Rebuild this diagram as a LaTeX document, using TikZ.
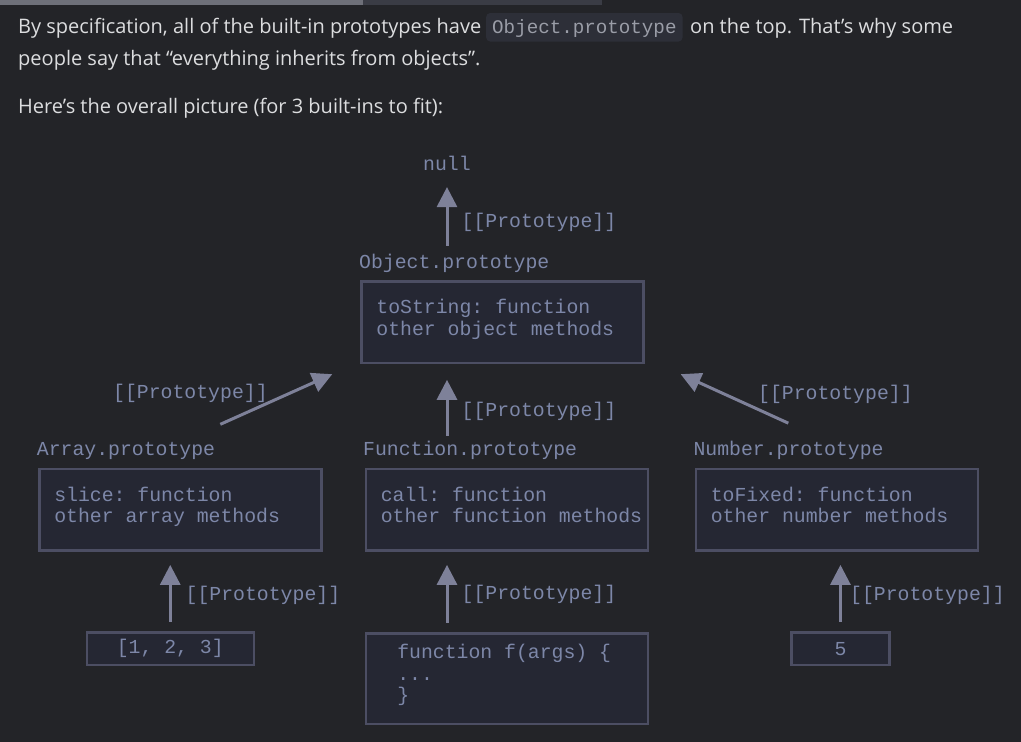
\documentclass[tikz,border=0pt]{standalone}
\usepackage{fontspec}
\setmainfont{Open Sans}
\newfontfamily\monofont{Liberation Mono}
\newcommand\codesp{\hbox to 11.88pt{}}
\usetikzlibrary{arrows.meta,positioning}
\definecolor{pagebg}{HTML}{232428}
\definecolor{barlight}{HTML}{6E7079}
\definecolor{bardark}{HTML}{3A3C45}
\definecolor{bodytext}{HTML}{DCDDDF}
\definecolor{inlinebg}{HTML}{2D2F38}
\definecolor{inlinetext}{HTML}{9A9DA7}
\definecolor{boxbg}{HTML}{252733}
\definecolor{boxline}{HTML}{4C4E63}
\definecolor{codetext}{HTML}{7D87A8}
\definecolor{arrowcol}{HTML}{7E8199}
\begin{document}
\begin{tikzpicture}[x=1pt,y=-1pt,
	body/.style={font=\fontsize{20}{24}\selectfont, text=bodytext, inner sep=0, anchor=base west},
	mono/.style={font=\monofont\fontsize{19.8}{21.5}\selectfont, text=codetext, inner sep=0},
	title/.style={mono, anchor=base west},
	protobox/.style={mono, draw=boxline, fill=boxbg, line width=2.5pt, anchor=north west, align=left,
		text width=252pt, inner xsep=15pt, minimum height=81.5pt, text height=15pt, text depth=32pt},
	litbox/.style={mono, draw=boxline, fill=boxbg, line width=2.5pt, anchor=north west, minimum height=32.6pt},
	arr/.style={draw=arrowcol, line width=3pt, -{Triangle[width=20pt,length=20pt]}},
	vert/.style={arr, shorten <=9.5pt, shorten >=13pt}]

% page
\fill[pagebg] (0,0) rectangle (1021,742);
\useasboundingbox (0,0) rectangle (1021,742);
\fill[barlight] (0,0) rectangle (363,5);
\fill[bardark] (363,0) rectangle (602,5);

% text above the picture
\node[body] (line1) at (18,33) {By specification, all of the built-in prototypes have};
\node[font=\monofont\fontsize{19.2}{20}\selectfont, text=inlinetext, fill=inlinebg, rounded corners=4pt,
	inner xsep=6pt, inner ysep=5pt, text height=15pt, text depth=3.5pt, anchor=base west] (inline) at (486,33) {Object.prototype};
\node[body] (line1b) at (690,33) {on the top. That’s why some};
\node[body] (line2) at (18,65) {people say that “everything inherits from objects”.};
\node[body] (line3) at (18,113) {Here’s the overall picture (for 3 built-ins to fit):};

% prototypes
\node[mono, anchor=base] (null) at (447,170) {null};
\node[title] (objname) at (359,268) {Object.prototype};
\node[protobox] (objbox) at (360.2,280.2) {toString:\codesp function\\other\codesp object\codesp methods};

\node[title] (arrname) at (36.7,455.7) {Array.prototype};
\node[protobox] (arrbox) at (38,467.9) {slice:\codesp function\\other\codesp array\codesp methods};
\node[title] (fnname) at (363,455.7) {Function.prototype};
\node[protobox] (fnbox) at (364.5,467.9) {call:\codesp function\\other\codesp function\codesp methods};
\node[title] (numname) at (693.3,455.7) {Number.prototype};
\node[protobox] (numbox) at (694.5,467.9) {toFixed:\codesp function\\other\codesp number\codesp methods};

% values
\node[litbox, minimum width=167pt] (arrlit) at (85.5,631.2) {[1,\codesp 2,\codesp 3]};
\node[litbox, minimum height=90.8pt, align=left, text width=219pt, inner xsep=31.5pt,
	text height=15pt, text depth=54.4pt] (fnlit) at (364.5,632) {function\codesp f(args)\codesp\{\\...\\\}};
\node[litbox, minimum width=98pt] (numlit) at (790.2,631.2) {5};

% links
\draw[arr, shorten <=7.5pt, shorten >=16.7pt] (objname.north -| null.south) -- (null.south);
\draw[arr, shorten <=5pt, shorten >=15.6pt] (fnname.north -| null.south) -- (objbox.south -| null.south);
\draw[arr] ([shift={(5,-18)}]arrname.north east) -- ([shift={(-28,10)}]objbox.south west);
\draw[arr] ([shift={(95,-18)}]numname.north west) -- ([shift={(36,10)}]objbox.south east);
\draw[vert] (arrlit.north) -- (arrlit.north |- arrbox.south);
\draw[vert] (fnlit.north -| null.south) -- (fnbox.south -| null.south);
\draw[vert] (numlit.north) -- (numlit.north |- numbox.south);

\node[title] (link1) at (461.5,227) {[[Prototype]]};
\node[title] (link2) at (461.5,416.5) {[[Prototype]]};
\node[title] (link3) at (113,398) {[[Prototype]]};
\node[title] (link4) at (758,399) {[[Prototype]]};
\node[title] (link5) at (185.5,600.5) {[[Prototype]]};
\node[title] (link6) at (461.5,599.5) {[[Prototype]]};
\node[title] (link7) at (850,600.5) {[[Prototype]]};
\end{tikzpicture}
\end{document}
